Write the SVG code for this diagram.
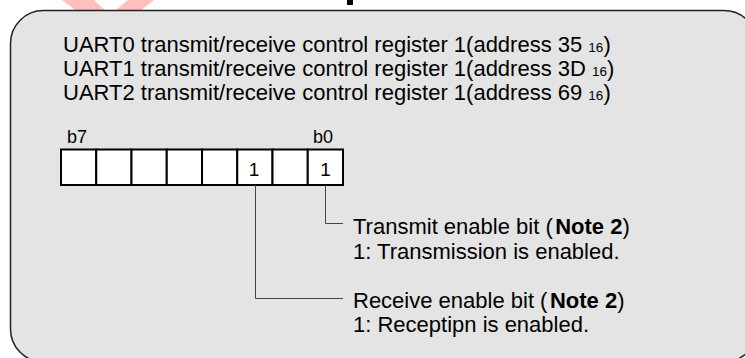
<svg xmlns="http://www.w3.org/2000/svg" width="745" height="358" viewBox="0 0 745 358">
<style>
.t{font-family:"Liberation Sans",Arial,sans-serif;fill:#000}
.main{font-size:22px}
.sub{font-size:13.5px}
.lbl{font-size:18px}
.bit{font-size:19px}
.desc{font-size:22px}
.b{font-weight:bold}
.cell{fill:#fff;stroke:#000;stroke-width:2}
.conn{fill:none;stroke:#444;stroke-width:1}
</style>
<rect x="0" y="0" width="745" height="358" fill="#fff"/>
<polygon points="62,0 109,36 154,0 128,0 110,15 94,0" fill="#ff0000" opacity="0.25"/>
<rect x="347" y="0" width="6" height="5" fill="#000"/>
<g id="frame">
<rect x="10.5" y="10.5" width="746.5" height="351.5" rx="33" ry="33" fill="#e4e4e4" stroke="#222" stroke-width="1.5"/>
</g>
<g id="title" class="t main">
<text x="63" y="52">UART0 transmit/receive control register 1(address 35 <tspan class="sub">16</tspan>)</text>
<text x="63" y="76">UART1 transmit/receive control register 1(address 3D <tspan class="sub">16</tspan>)</text>
<text x="63" y="100">UART2 transmit/receive control register 1(address 69 <tspan class="sub">16</tspan>)</text>
</g>
<g id="register">
<text class="t lbl" x="67" y="143">b7</text>
<text class="t lbl" x="313" y="143">b0</text>
<rect class="cell" x="61" y="149.5" width="35.25" height="35.5"/>
<rect class="cell" x="96.25" y="149.5" width="35.25" height="35.5"/>
<rect class="cell" x="131.5" y="149.5" width="35.25" height="35.5"/>
<rect class="cell" x="166.75" y="149.5" width="35.25" height="35.5"/>
<rect class="cell" x="202" y="149.5" width="35.25" height="35.5"/>
<rect class="cell" x="237.25" y="149.5" width="35.25" height="35.5"/>
<rect class="cell" x="272.5" y="149.5" width="35.25" height="35.5"/>
<rect class="cell" x="307.75" y="149.5" width="35.25" height="35.5"/>
<text class="t bit" x="254" y="176" text-anchor="middle">1</text>
<text class="t bit" x="325.5" y="176" text-anchor="middle">1</text>
</g>
<g id="connectors">
<polyline class="conn" points="325.5,185 325.5,223.5 343,223.5"/>
<polyline class="conn" points="255.5,185 255.5,298.5 343,298.5"/>
</g>
<g id="transmit" class="t desc">
<text x="353" y="234">Transmit enable bit (<tspan class="b" dx="2.5">Note 2</tspan>)</text>
<text x="353" y="259">1: Transmission is enabled.</text>
</g>
<g id="receive" class="t desc">
<text x="353" y="308">Receive enable bit (<tspan class="b" dx="2.5">Note 2</tspan>)</text>
<text x="353" y="332">1: Receptipn is enabled.</text>
</g>
</svg>
